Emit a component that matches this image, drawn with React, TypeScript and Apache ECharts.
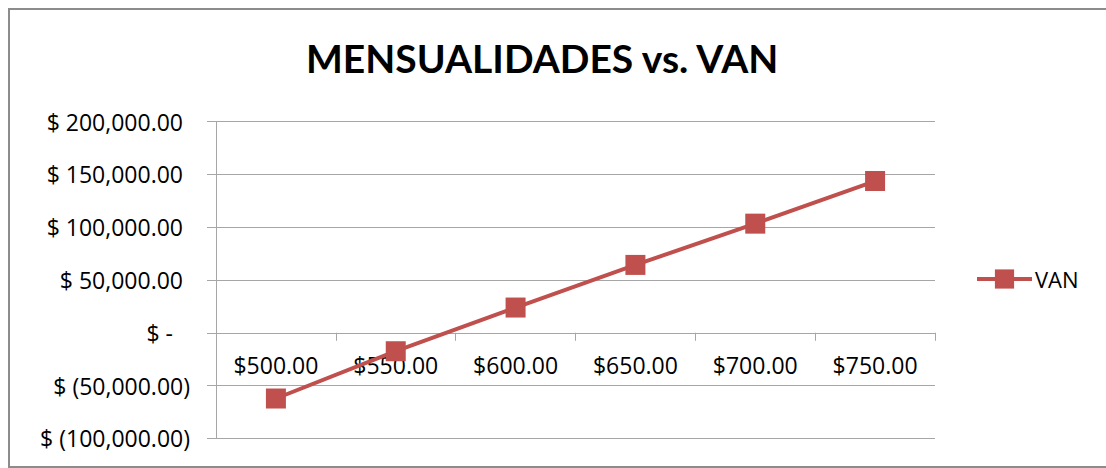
import React, { useEffect, useRef } from "react";
import * as echarts from "echarts";

const categories = ["$500.00", "$550.00", "$600.00", "$650.00", "$700.00", "$750.00"];
const vanValues = [-62300, -17500, 23900, 64300, 103400, 143800];
const seriesName = "VAN";
const chartTitle = "MENSUALIDADES vs. VAN";
const yMin = -100000;
const yMax = 200000;
const yStep = 50000;

const RED = "#C0504D";
const FONT = "'Open Sans', 'Liberation Sans', sans-serif";

const GRID_TOP = 121.7;
const GRID_BOTTOM = 29.7;
const CHART_H = 468;

function withCommas(n: number): string {
  const fixed = n.toFixed(2);
  const [intPart, dec] = fixed.split(".");
  const withC = intPart.replace(/\B(?=(\d{3})+(?!\d))/g, ",");
  return withC + "." + dec;
}

function formatY(v: number): string {
  if (v === 0) return "{t|$ -}{z|}";
  const abs = withCommas(Math.abs(v));
  return v < 0 ? `{t|$ (${abs})}` : `{t|$ ${abs}}{p|}`;
}

export default function App() {
  const ref = useRef<HTMLDivElement>(null);
  useEffect(() => {
    if (!ref.current) return;
    const chart = echarts.init(ref.current, undefined, { renderer: "svg" });
    // place the category axis where the value axis crosses zero (Excel style)
    const plotH = CHART_H - GRID_TOP - GRID_BOTTOM;
    const zeroFromBottom = ((0 - yMin) / (yMax - yMin)) * plotH;
    chart.setOption({
      animation: false,
      backgroundColor: "#ffffff",
      title: {
        text: chartTitle,
        left: 306,
        top: 38,
        padding: 0,
        textStyle: {
          fontFamily: "Lato, 'Open Sans', sans-serif",
          fontWeight: "bold",
          fontSize: 39,
          color: "#000000",
        },
      },
      graphic: [
        {
          type: "rect",
          shape: { x: 9, y: 9, width: 1110, height: 458 },
          style: { fill: "none", stroke: "#8c8c8c", lineWidth: 2 },
          silent: true,
        },
      ],
      legend: {
        orient: "vertical",
        left: 975,
        top: 268,
        padding: 0,
        itemWidth: 55,
        itemHeight: 24,
        itemGap: 2,
        lineStyle: { width: 4 },
        textStyle: { fontFamily: FONT, fontSize: 22, color: "#000000", padding: [0, 0, 0, -2] },
        data: [seriesName],
      },
      grid: {
        left: 216,
        right: 171,
        top: GRID_TOP,
        bottom: GRID_BOTTOM,
        containLabel: false,
        outerBoundsMode: "none",
      },
      xAxis: {
        type: "category",
        data: categories,
        boundaryGap: true,
        offset: -zeroFromBottom,
        axisLine: {
          show: true,
          onZero: false,
          lineStyle: { color: "#a6a6a6", width: 1 },
        },
        axisTick: { show: true, inside: false, length: 8, lineStyle: { color: "#a6a6a6" } },
        axisLabel: { margin: 21, fontFamily: FONT, fontSize: 23, color: "#000000" },
        splitLine: { show: false },
      },
      yAxis: {
        type: "value",
        min: yMin,
        max: yMax,
        interval: yStep,
        axisLine: { show: true, lineStyle: { color: "#a6a6a6", width: 1 } },
        axisTick: { show: true, length: 9, lineStyle: { color: "#a6a6a6" } },
        splitLine: { show: true, lineStyle: { color: "#a6a6a6", width: 1 } },
        axisLabel: {
          margin: 26,
          align: "right",
          formatter: (v: number) => formatY(v),
          rich: {
            t: { fontFamily: FONT, fontSize: 23, color: "#000000" },
            p: { width: 7 },
            z: { width: 17 },
          },
        },
      },
      series: [
        {
          name: seriesName,
          type: "line",
          data: vanValues,
          symbol: "rect",
          symbolSize: 20,
          lineStyle: { color: RED, width: 4 },
          itemStyle: { color: RED },
          z: 5,
        },
      ],
    });
    return () => chart.dispose();
  }, []);
  return (
    <div
      ref={ref}
      style={{ position: "fixed", left: 0, top: 0, width: 1106, height: 468 }}
    />
  );
}
